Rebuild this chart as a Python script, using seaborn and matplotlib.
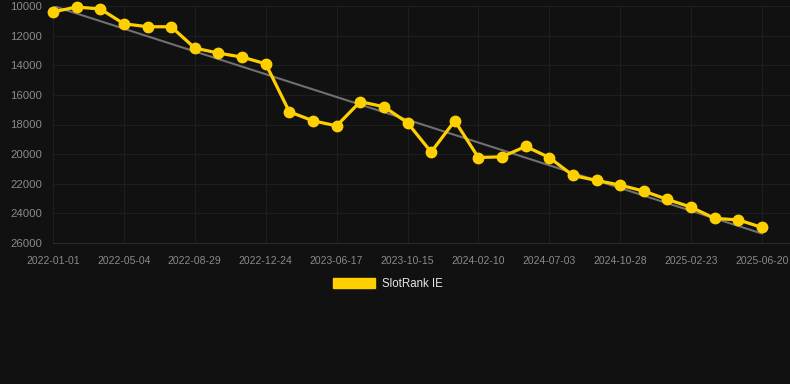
import pandas as pd
import numpy as np
import matplotlib
matplotlib.use('Agg')
import matplotlib.pyplot as plt
import matplotlib.patches as mpatches
import seaborn as sns

# Rangos (31 puntos, eje categórico)
rank_values = [10400, 10070, 10200, 11200, 11400, 11400, 12840, 13180, 13450, 13900,
               17140, 17750, 18090, 16460, 16800, 17880, 19860, 17750, 20230, 20180,
               19480, 20230, 21440, 21780, 22090, 22500, 23060, 23580, 24340, 24440,
               24950]
tick_labels = ['2022-01-01', '2022-05-04', '2022-08-29', '2022-12-24', '2023-06-17',
               '2023-10-15', '2024-02-10', '2024-07-03', '2024-10-28', '2025-02-23',
               '2025-06-20']
y_ticks = [10000, 12000, 14000, 16000, 18000, 20000, 22000, 24000, 26000]
series_name = 'SlotRank IE'

BG = '#111111'
GOLD = '#FFD000'

df = pd.DataFrame({'idx': np.arange(len(rank_values)), 'rank': rank_values})

sns.set_theme(style='dark')
plt.rcParams['font.family'] = ['Liberation Sans', 'DejaVu Sans']

fig = plt.figure(figsize=(7.9, 3.84), dpi=100, facecolor=BG)
ax = fig.add_axes([53 / 790, 1 - 243 / 384, 737 / 790, 237 / 384])
ax.set_facecolor(BG)

# tendencia lineal
sns.regplot(data=df, x='idx', y='rank', scatter=False, ci=None, ax=ax,
            line_kws={'color': '#707070', 'lw': 1.5, 'zorder': 2})
sns.lineplot(data=df, x='idx', y='rank', ax=ax, color=GOLD, lw=2.3, marker='o',
             markersize=8.5, markeredgewidth=0, zorder=3, clip_on=False)

ax.set_xlim(0, (790 - 53) / ((762 - 53) / 30))
ax.set_ylim(26000, 10000)
ax.set_xticks(range(0, len(rank_values), 3))
ax.set_xticklabels(tick_labels)
ax.set_yticks(y_ticks)
ax.set_xlabel('')
ax.set_ylabel('')
ax.tick_params(axis='both', length=0, colors='#8a8a8a', labelsize=7.5)
ax.tick_params(axis='y', pad=8, labelsize=8.2)
ax.tick_params(axis='x', pad=9)
ax.grid(True, color='#1e1e1e', lw=0.8)
for s in ax.spines.values():
    s.set_visible(False)
ax.spines['bottom'].set_visible(True)
ax.spines['bottom'].set_color('#2a2a2a')
ax.spines['bottom'].set_linewidth(0.8)

handle = mpatches.Patch(color=GOLD, label=series_name)
leg = fig.legend(handles=[handle], loc='center', bbox_to_anchor=(388 / 790, 1 - 284 / 384),
                 frameon=False, fontsize=8.3, handlelength=3.6, handleheight=1.0,
                 handletextpad=0.6)
for t in leg.get_texts():
    t.set_color('#e6e6e6')

fig.savefig('out.png', dpi=100, facecolor=BG)
plt.close(fig)
